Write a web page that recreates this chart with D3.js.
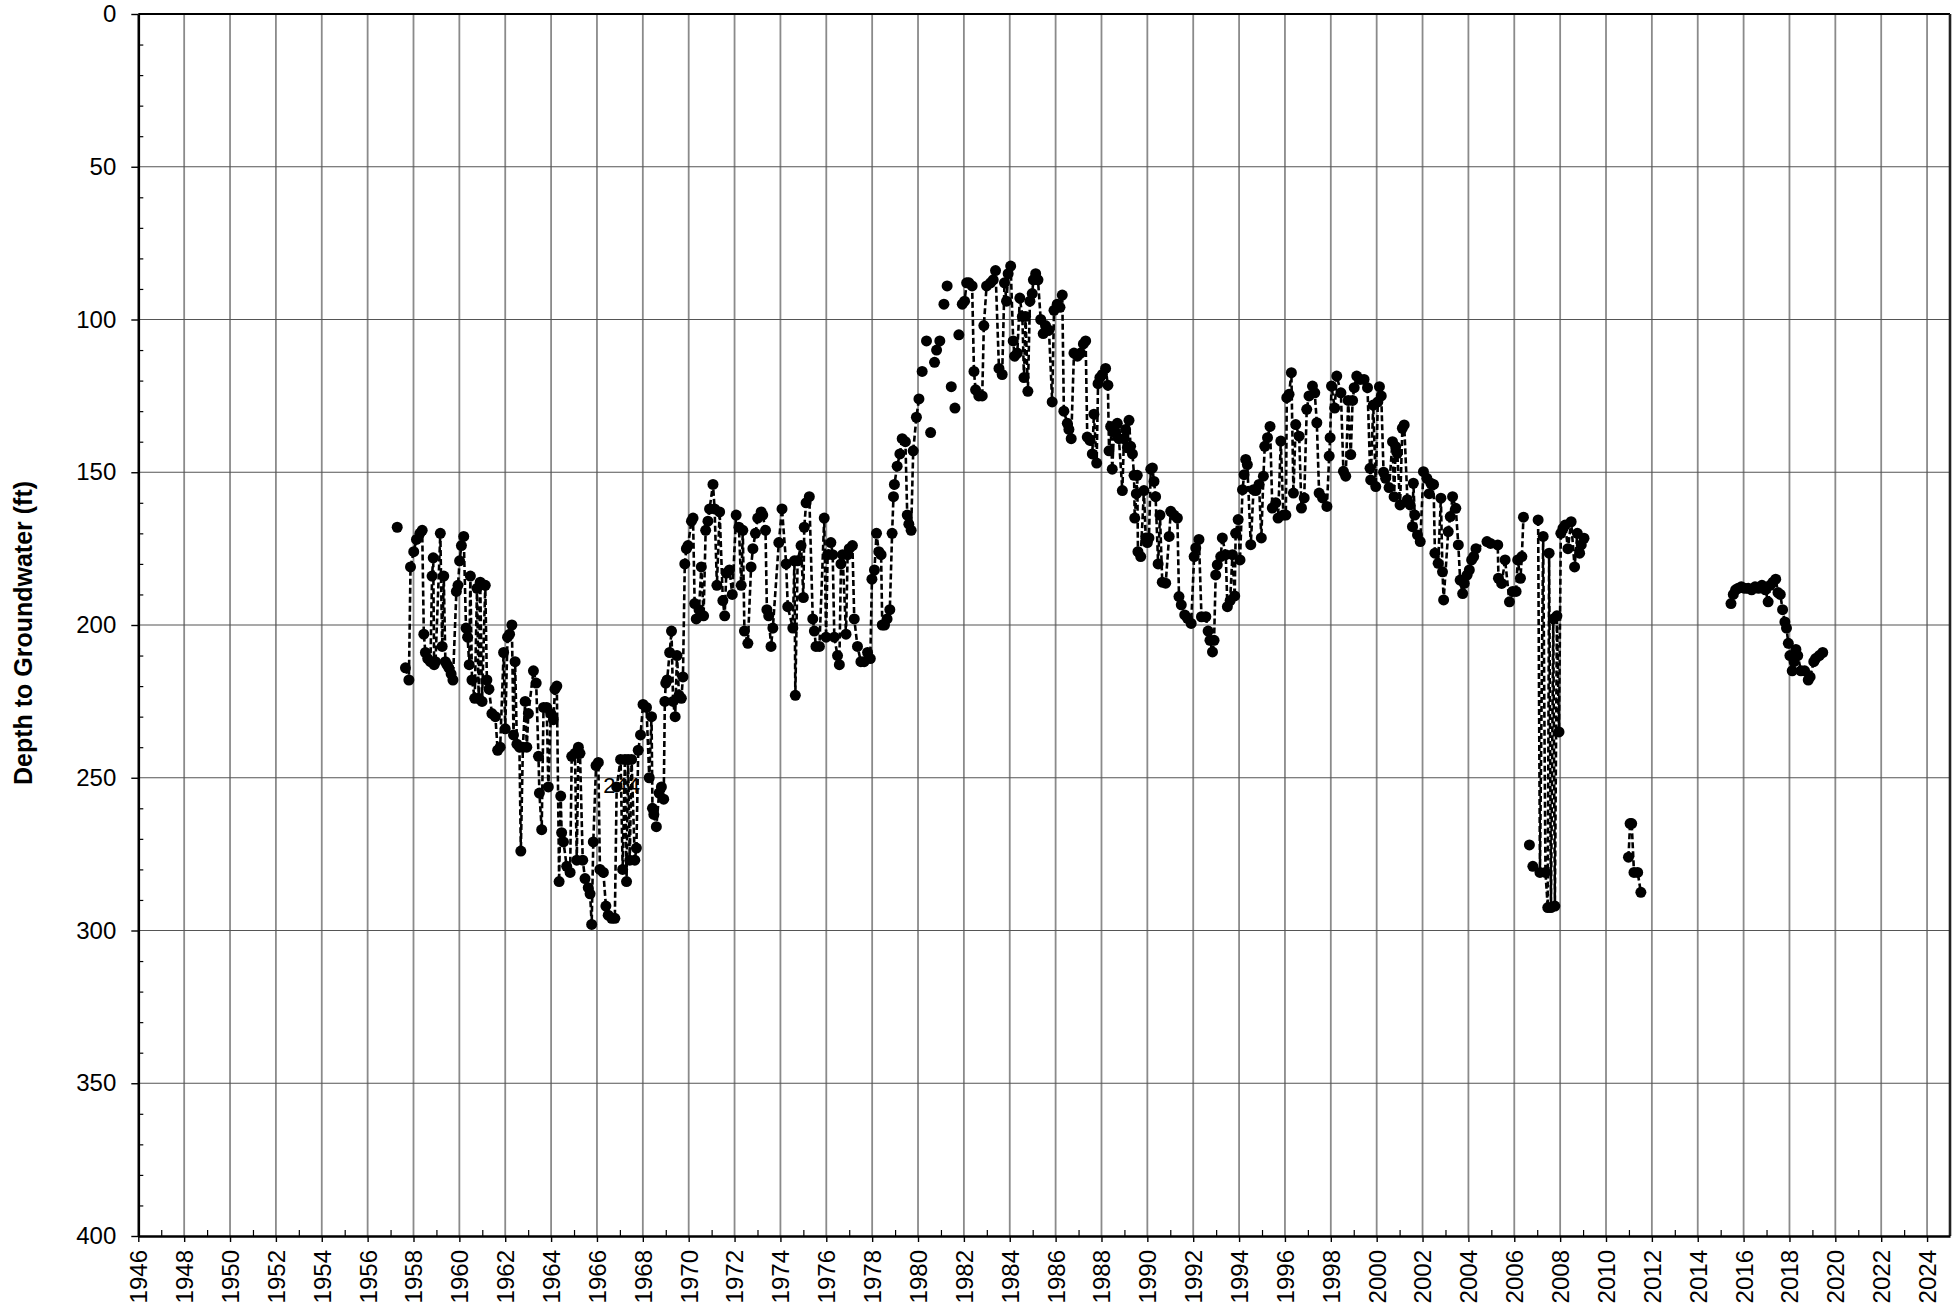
<!DOCTYPE html>
<html><head><meta charset="utf-8">
<script src="https://cdn.jsdelivr.net/npm/d3@7"></script>
<style>
body{margin:0;background:#fff}
svg{display:block}
text{font-family:"Liberation Sans",Arial,Helvetica,sans-serif;fill:#000}
</style>
</head><body>
<svg id="chart" width="1959" height="1310"></svg>
<script>
// ---------- tick labels ----------
const yearTicks = [1946,1948,1950,1952,1954,1956,1958,1960,1962,1964,1966,1968,1970,1972,1974,1976,1978,1980,1982,1984,1986,1988,1990,1992,1994,1996,1998,2000,2002,2004,2006,2008,2010,2012,2014,2016,2018,2020,2022,2024];
const minorYearTicks = [1947,1949,1951,1953,1955,1957,1959,1961,1963,1965,1967,1969,1971,1973,1975,1977,1979,1981,1983,1985,1987,1989,1991,1993,1995,1997,1999,2001,2003,2005,2007,2009,2011,2013,2015,2017,2019,2021,2023];
const depthTicks = [0,50,100,150,200,250,300,350,400];
const minorDepthTicks = [10,20,30,40,60,70,80,90,110,120,130,140,160,170,180,190,210,220,230,240,260,270,280,290,310,320,330,340,360,370,380,390];
const yAxisTitle = "Depth to Groundwater (ft)";

// ---------- series: [decimal year, depth to groundwater (ft)] ----------
const series1957to1980 = [[1957.65,214],[1957.80,218],[1957.87,181],[1958.01,176],[1958.13,172],[1958.28,170],[1958.38,169],[1958.45,203],[1958.52,209],[1958.62,211],[1958.74,212],[1958.81,184],[1958.86,178],[1958.90,213],[1958.96,212],[1959.17,170],[1959.25,207],[1959.32,184],[1959.39,212],[1959.46,213],[1959.54,214],[1959.64,216],[1959.72,218],[1959.87,189],[1959.94,187],[1960.01,179],[1960.09,174],[1960.19,171],[1960.29,201],[1960.36,204],[1960.43,213],[1960.48,184],[1960.55,218],[1960.67,224],[1960.77,188],[1960.84,224],[1960.91,186],[1960.99,225],[1961.13,187],[1961.20,218],[1961.29,221],[1961.42,229],[1961.57,230],[1961.67,241],[1961.78,240],[1961.93,209],[1962.00,234],[1962.10,204],[1962.19,203],[1962.29,200],[1962.36,236],[1962.43,212],[1962.51,239],[1962.62,240],[1962.68,274],[1962.77,240],[1962.87,225],[1962.94,240],[1963.01,229],[1963.23,215],[1963.35,219],[1963.45,243],[1963.49,255],[1963.59,267],[1963.67,227],[1963.81,227],[1963.88,253],[1963.99,229],[1964.10,231],[1964.17,221],[1964.25,220],[1964.35,284],[1964.42,256],[1964.46,268],[1964.54,271],[1964.68,279],[1964.83,281],[1964.90,243],[1965.04,242],[1965.12,277],[1965.19,240],[1965.26,242],[1965.38,277],[1965.48,283],[1965.62,286],[1965.70,288],[1965.77,298],[1965.84,271],[1965.96,246],[1966.06,245],[1966.13,280],[1966.28,281],[1966.39,292],[1966.49,295],[1966.64,296],[1966.78,296],[1966.86,253],[1967.03,244],[1967.12,280],[1967.22,244],[1967.29,284],[1967.36,244],[1967.43,277],[1967.51,244],[1967.65,277],[1967.72,273],[1967.80,241],[1967.90,236],[1968.01,226],[1968.16,227],[1968.28,250],[1968.38,230],[1968.42,260],[1968.48,262],[1968.59,266],[1968.71,255],[1968.81,253],[1968.91,257],[1968.96,225],[1969.00,219],[1969.06,218],[1969.17,209],[1969.25,202],[1969.32,225],[1969.41,230],[1969.49,210],[1969.58,223],[1969.68,224],[1969.75,217],[1969.83,180],[1969.90,175],[1969.97,174],[1970.12,166],[1970.19,165],[1970.26,193],[1970.33,198],[1970.45,195],[1970.55,181],[1970.65,197],[1970.74,169],[1970.84,166],[1970.91,162],[1971.06,154],[1971.13,162],[1971.23,187],[1971.35,163],[1971.49,192],[1971.57,197],[1971.64,183],[1971.78,182],[1971.90,190],[1972.07,164],[1972.19,168],[1972.29,187],[1972.36,169],[1972.43,202],[1972.58,206],[1972.72,181],[1972.80,175],[1972.91,170],[1973.01,165],[1973.16,163],[1973.23,164],[1973.35,169],[1973.41,195],[1973.49,197],[1973.59,207],[1973.67,201],[1973.93,173],[1974.07,162],[1974.25,180],[1974.32,194],[1974.54,201],[1974.61,179],[1974.65,223],[1974.75,179],[1974.90,174],[1975.00,191],[1975.04,168],[1975.12,160],[1975.26,158],[1975.41,198],[1975.48,202],[1975.55,207],[1975.70,207],[1975.91,165],[1975.99,204],[1976.06,177],[1976.20,173],[1976.28,177],[1976.35,204],[1976.49,210],[1976.57,213],[1976.64,180],[1976.71,177],[1976.86,203],[1976.93,177],[1977.00,175],[1977.14,174],[1977.22,198],[1977.36,207],[1977.51,212],[1977.65,212],[1977.80,209],[1977.92,211],[1977.99,185],[1978.10,182],[1978.19,170],[1978.29,176],[1978.39,177],[1978.44,200],[1978.54,200],[1978.65,198],[1978.77,195],[1978.87,170],[1978.93,158],[1978.97,154],[1979.09,148],[1979.21,144],[1979.31,139],[1979.45,140],[1979.53,164],[1979.60,167],[1979.70,169],[1979.79,143],[1979.93,132],[1980.04,126]];

const series1982to2006 = [[1981.93,95],[1982.03,94],[1982.12,88],[1982.22,88],[1982.36,89],[1982.44,117],[1982.51,123],[1982.65,125],[1982.80,125],[1982.87,102],[1982.99,89],[1983.16,88],[1983.28,87],[1983.38,84],[1983.53,116],[1983.67,118],[1983.77,88],[1983.86,94],[1983.93,85],[1984.04,82.5],[1984.15,107],[1984.21,112],[1984.33,111],[1984.44,93],[1984.55,99],[1984.62,119],[1984.69,99],[1984.79,123.5],[1984.88,94],[1984.98,91.5],[1985.03,87],[1985.13,85],[1985.23,87],[1985.35,100],[1985.46,104.6],[1985.56,102],[1985.71,103.5],[1985.85,127],[1985.93,97],[1986.07,95],[1986.19,96],[1986.29,92],[1986.36,130],[1986.51,134],[1986.58,136],[1986.68,139],[1986.80,111],[1986.95,112],[1987.09,111],[1987.21,108],[1987.31,107],[1987.38,138.5],[1987.50,139.6],[1987.60,144],[1987.67,131],[1987.79,147],[1987.85,121],[1987.93,119],[1988.04,118],[1988.18,116],[1988.28,121.5],[1988.33,143],[1988.40,135],[1988.47,149],[1988.55,136],[1988.62,137],[1988.69,134],[1988.76,139],[1988.91,156],[1988.98,139],[1989.05,136],[1989.13,142],[1989.20,133],[1989.27,141.5],[1989.35,144],[1989.42,151],[1989.45,165],[1989.52,157],[1989.56,151],[1989.59,176],[1989.71,177.6],[1989.85,156],[1989.93,171.5],[1990.00,173],[1990.07,171.5],[1990.15,149],[1990.22,148.6],[1990.29,153],[1990.36,158],[1990.47,180],[1990.55,164],[1990.65,186],[1990.80,186.3],[1990.95,171],[1991.02,162.8],[1991.16,164],[1991.31,165],[1991.38,190.7],[1991.48,193.4],[1991.63,196.7],[1991.75,197.8],[1991.91,199.5],[1992.04,177.6],[1992.11,174.8],[1992.25,172],[1992.36,197.3],[1992.55,197.3],[1992.65,202],[1992.73,205],[1992.84,208.8],[1992.91,205],[1992.98,183.6],[1993.05,180.3],[1993.20,177.6],[1993.27,171.5],[1993.42,177],[1993.49,194],[1993.61,192],[1993.71,177],[1993.81,190.5],[1993.85,170],[1993.96,165.5],[1994.04,178.7],[1994.15,155.7],[1994.22,150.8],[1994.29,145.8],[1994.36,147.5],[1994.51,173.7],[1994.63,155.7],[1994.73,156],[1994.87,154],[1994.97,171.5],[1995.06,151.3],[1995.12,141.5],[1995.24,138.7],[1995.35,135],[1995.45,161.7],[1995.60,160],[1995.70,165],[1995.82,139.8],[1995.93,164],[1996.04,164],[1996.08,125.6],[1996.18,124.5],[1996.28,117.4],[1996.37,156.8],[1996.47,134.4],[1996.62,138.2],[1996.72,161.7],[1996.84,158.4],[1996.95,129.4],[1997.05,125],[1997.20,121.8],[1997.30,124],[1997.39,133.8],[1997.49,156.8],[1997.64,158.4],[1997.83,161.2],[1997.93,144.7],[1997.97,138.7],[1998.03,121.8],[1998.17,129],[1998.26,118.5],[1998.44,124],[1998.55,149.7],[1998.65,151.3],[1998.76,126.5],[1998.87,144.2],[1998.95,126.5],[1999.02,122.3],[1999.13,118.5],[1999.28,119.6],[1999.45,119.6],[1999.60,122.3],[1999.71,148.7],[1999.74,152.5],[1999.85,128],[1999.96,154.7],[2000.05,127],[2000.12,122],[2000.20,125],[2000.30,150],[2000.39,152],[2000.54,155],[2000.69,140],[2000.76,158],[2000.83,141.6],[2000.90,143.8],[2001.02,160.7],[2001.12,135.6],[2001.20,134.5],[2001.34,159],[2001.46,160.7],[2001.56,167.8],[2001.60,153.6],[2001.66,164],[2001.78,170.5],[2001.90,172.7],[2002.04,149.8],[2002.19,152],[2002.29,157],[2002.36,153.6],[2002.48,154],[2002.54,176.5],[2002.68,179.8],[2002.80,158.5],[2002.87,182.6],[2002.92,191.8],[2003.12,169.4],[2003.21,164.5],[2003.31,158],[2003.45,161.8],[2003.56,173.8],[2003.64,185.3],[2003.75,189.7],[2003.82,186.4],[2003.94,183.7],[2004.04,182],[2004.14,178.7],[2004.23,177.6],[2004.33,175],[2004.81,172.7],[2004.96,173.3],[2005.28,173.8],[2005.31,184.7],[2005.45,186.4],[2005.60,178.7],[2005.79,192.4],[2005.93,189],[2006.08,189],[2006.15,178.7],[2006.27,184.7],[2006.33,177.6],[2006.40,164.7]];

const series2007to2009 = [[2007.04,165.6],[2007.12,281],[2007.26,171],[2007.36,281],[2007.46,292.5],[2007.52,176.5],[2007.60,292.5],[2007.70,198],[2007.77,292],[2007.86,197],[2007.95,235],[2008.03,170],[2008.12,168.4],[2008.22,167.3],[2008.34,175],[2008.48,166.2],[2008.63,181],[2008.75,170],[2008.85,176.5],[2008.92,173.8],[2009.04,171.6]];

const series2011 = [[2010.98,276],[2011.05,265],[2011.12,265],[2011.22,281],[2011.38,281],[2011.52,287.5]];

const series2015to2019 = [[2015.45,193],[2015.55,190],[2015.65,188.5],[2015.76,188],[2015.90,187.5],[2016.05,188],[2016.20,188],[2016.35,188.5],[2016.50,187.5],[2016.65,188],[2016.80,187],[2016.95,188.5],[2017.07,192.4],[2017.16,187],[2017.28,186],[2017.40,185],[2017.50,189.4],[2017.60,190],[2017.70,195],[2017.80,199],[2017.87,201],[2017.95,206],[2018.02,210],[2018.12,215],[2018.20,212],[2018.28,208],[2018.36,210],[2018.50,215],[2018.66,215],[2018.82,218],[2018.90,217],[2019.06,212],[2019.14,211],[2019.30,210],[2019.45,209]];

const unconnectedPoints = [[1957.29,168],[1980.18,117],[1980.37,107],[1980.55,137],[1980.72,114],[1980.81,110],[1980.95,107],[1981.13,95],[1981.27,89],[1981.45,122],[1981.61,129],[1981.78,105],[2006.66,272],[2006.81,279]];

const pointLabels = [{year:1967.08, depth:255, text:"244"}];

// ---------- layout ----------
const W = 1959, H = 1310;
const margin = {left:138.3, right:9, top:14, bottom:74};
const x = d3.scaleLinear().domain([1946, 2025]).range([margin.left, W - margin.right]);
const y = d3.scaleLinear().domain([0, 400]).range([margin.top, H - margin.bottom]);

const svg = d3.select("#chart");

// grid
svg.append("g").selectAll("line").data(yearTicks.filter(v => v > 1946)).join("line")
  .attr("x1", d => x(d)).attr("x2", d => x(d))
  .attr("y1", y(0)).attr("y2", y(400))
  .attr("stroke", "#8a8a8a").attr("stroke-width", 1.8);
svg.append("g").selectAll("line").data(depthTicks.filter(v => v > 0 && v < 400)).join("line")
  .attr("x1", x(1946)).attr("x2", x(2025))
  .attr("y1", d => y(d)).attr("y2", d => y(d))
  .attr("stroke", "#555").attr("stroke-width", 1.2);

// frame top / right
svg.append("line").attr("x1", x(1946)).attr("x2", x(2025)).attr("y1", y(0)).attr("y2", y(0))
  .attr("stroke", "#000").attr("stroke-width", 2.2);
svg.append("line").attr("x1", x(2025)).attr("x2", x(2025)).attr("y1", y(0)).attr("y2", y(400))
  .attr("stroke", "#222").attr("stroke-width", 2.6);

// annotation label (under the series)
svg.append("g").selectAll("text").data(pointLabels).join("text")
  .attr("x", d => x(d.year)).attr("y", d => y(d.depth))
  .attr("text-anchor", "middle").style("font-size", "22px").text(d => d.text);

// series
const line = d3.line().x(d => x(d[0])).y(d => y(d[1]));
const segments = [series1957to1980, series1982to2006, series2007to2009, series2011, series2015to2019];
svg.append("g").selectAll("path").data(segments).join("path")
  .attr("d", line).attr("fill", "none").attr("stroke", "#000")
  .attr("stroke-width", 2.6).attr("stroke-dasharray", "6,3");
const allPoints = segments.flat().concat(unconnectedPoints);
svg.append("g").selectAll("circle").data(allPoints).join("circle")
  .attr("cx", d => x(d[0])).attr("cy", d => y(d[1])).attr("r", 5.5).attr("fill", "#000");

// x axis
const xAxis = svg.append("g").attr("transform", `translate(0,${y(400)})`)
  .call(d3.axisBottom(x).tickValues(yearTicks).tickSize(6).tickSizeOuter(0).tickFormat(d3.format("d")));
xAxis.select(".domain").attr("stroke", "#000").attr("stroke-width", 2.6);
xAxis.selectAll(".tick line").attr("stroke", "#000").attr("stroke-width", 1.4);
xAxis.selectAll(".tick text")
  .attr("transform", "translate(0,14) rotate(-90)")
  .attr("x", 0).attr("y", 0).attr("dy", "0.35em")
  .attr("text-anchor", "end").style("font-size", "24px").attr("fill", "#000");
const xMinor = svg.append("g").attr("transform", `translate(0,${y(400)})`)
  .call(d3.axisBottom(x).tickValues(minorYearTicks).tickSize(-6).tickSizeOuter(0).tickFormat(""));
xMinor.select(".domain").remove();
xMinor.selectAll(".tick line").attr("stroke", "#000").attr("stroke-width", 1.2);

// y axis
const yAxis = svg.append("g").attr("transform", `translate(${x(1946)},0)`)
  .call(d3.axisLeft(y).tickValues(depthTicks).tickSize(7).tickSizeOuter(0).tickPadding(15));
yAxis.select(".domain").attr("stroke", "#000").attr("stroke-width", 2.6);
yAxis.selectAll(".tick line").attr("stroke", "#000").attr("stroke-width", 1.4);
yAxis.selectAll(".tick text").style("font-size", "24px").attr("fill", "#000");
const yMinor = svg.append("g").attr("transform", `translate(${x(1946)},0)`)
  .call(d3.axisLeft(y).tickValues(minorDepthTicks).tickSize(-5).tickSizeOuter(0).tickFormat(""));
yMinor.select(".domain").remove();
yMinor.selectAll(".tick line").attr("stroke", "#000").attr("stroke-width", 1.2);

// y axis title
svg.append("text").attr("transform", `translate(23,${(y(0) + y(400)) / 2 + 8}) rotate(-90)`)
  .attr("text-anchor", "middle").attr("dy", "0.35em")
  .style("font-size", "25px").style("font-weight", "bold").text(yAxisTitle);
</script>
</body></html>
